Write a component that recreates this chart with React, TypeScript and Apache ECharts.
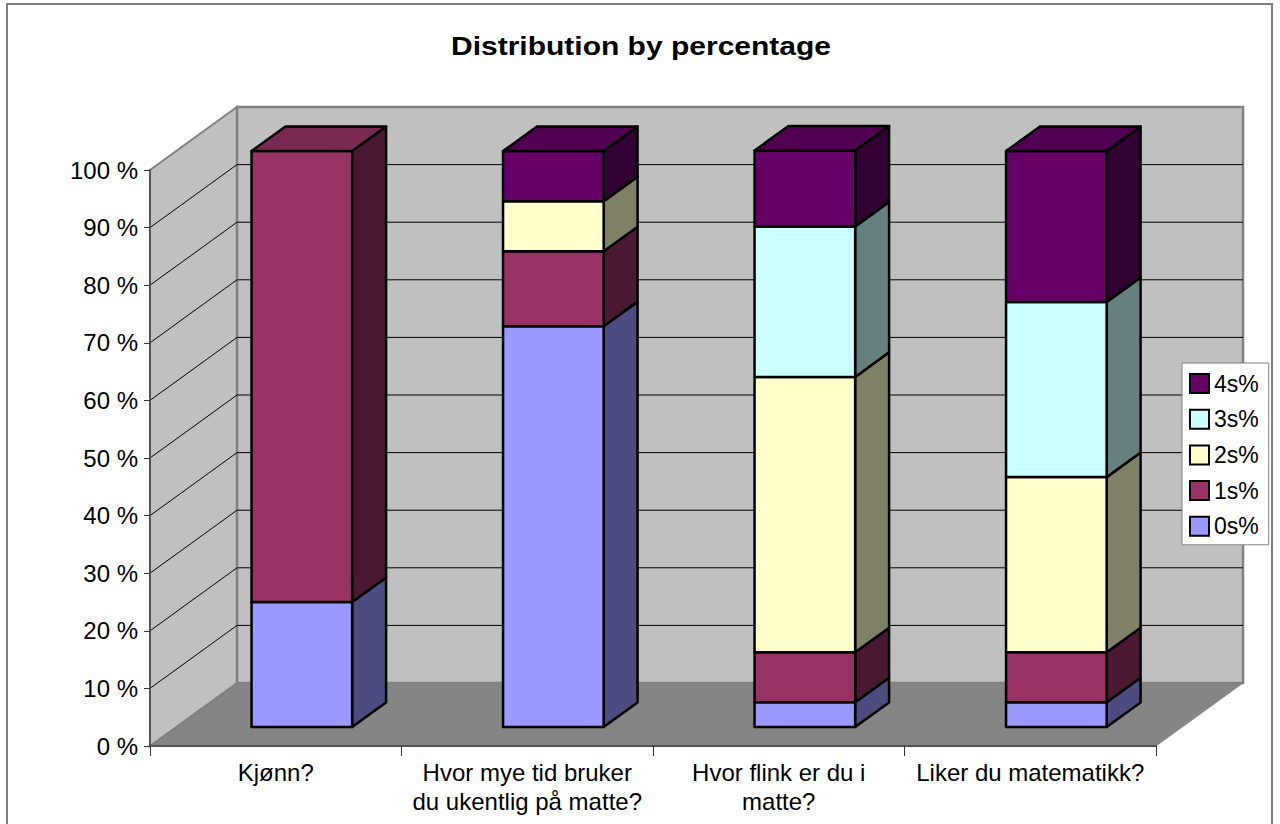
import React, { useEffect, useRef } from "react";
import * as echarts from "echarts";

// Question categories along the x axis
const categories = [
  "Kjønn?",
  "Hvor mye tid bruker\ndu ukentlig på matte?",
  "Hvor flink er du i\nmatte?",
  "Liker du matematikk?",
];

// Share of answers (%) per answer level, one array per level
const seriesNames = ["0s%", "1s%", "2s%", "3s%", "4s%"];
const pct0 = [21.7, 69.6, 4.3, 4.3];
const pct1 = [78.3, 13.0, 8.7, 8.7];
const pct2 = [0, 8.7, 47.8, 30.4];
const pct3 = [0, 0, 26.1, 30.4];
const pct4 = [0, 8.7, 13.2, 26.2];
const levels = [pct0, pct1, pct2, pct3, pct4];

// Value axis
const Y_MIN = 0;
const Y_MAX = 100;
const Y_STEP = 10;

// Face colours: front, side (shaded), top (shaded)
const FRONT = ["#9999FF", "#993366", "#FFFFCC", "#CCFFFF", "#660066"];
const SIDE = ["#4C4C80", "#4C1933", "#808066", "#668080", "#330033"];
const TOP = ["#7A7ACC", "#7A2952", "#CCCCA3", "#A3CCCC", "#520052"];

// Oblique projection of the chart depth (pixels) and bar placement in it
const DX = 87;
const DY = 63;
const DEPTH_FRONT = 0.3;
const DEPTH_BACK = 0.69;
const BAR_HALF = 0.2; // half bar width as fraction of category band

const FONT = '"Liberation Sans", Arial, Helvetica, sans-serif';

function buildStackData(level: number) {
  return categories.map((_, ci) => {
    let lo = 0;
    for (let k = 0; k < level; k++) lo += levels[k][ci];
    const hi = lo + levels[level][ci];
    let topIdx = 0;
    for (let k = 0; k < levels.length; k++) if (levels[k][ci] > 0) topIdx = k;
    return [ci, lo, hi, topIdx === level ? 1 : 0];
  });
}

export default function App() {
  const ref = useRef<HTMLDivElement>(null);

  useEffect(() => {
    if (!ref.current) return;
    const chart = echarts.init(ref.current, undefined, { renderer: "svg" });

    const wallSeries = {
      type: "custom",
      silent: true,
      clip: false,
      z: 1,
      data: [[0]],
      renderItem: (params: any, api: any) => {
        const cs = params.coordSys;
        const x0 = cs.x;
        const x1 = cs.x + cs.width;
        const yt = cs.y;
        const yb = cs.y + cs.height;
        const children: any[] = [
          {
            type: "polygon",
            shape: { points: [[x0, yb], [x0 + DX, yb - DY], [x1 + DX, yb - DY], [x1, yb]] },
            style: { fill: "#858585", stroke: "#8c8c8c", lineWidth: 1 },
          },
          {
            type: "polygon",
            shape: { points: [[x0, yt], [x0 + DX, yt - DY], [x0 + DX, yb - DY], [x0, yb]] },
            style: { fill: "#C0C0C0", stroke: "#808080", lineWidth: 2 },
          },
          {
            type: "polygon",
            shape: { points: [[x0 + DX, yt - DY], [x1 + DX, yt - DY], [x1 + DX, yb - DY], [x0 + DX, yb - DY]] },
            style: { fill: "#C0C0C0", stroke: "#808080", lineWidth: 2.5 },
          },
        ];
        for (let v = Y_MIN + Y_STEP; v < Y_MAX; v += Y_STEP) {
          const y = api.coord([0, v])[1];
          children.push({
            type: "polyline",
            shape: { points: [[x0, y], [x0 + DX, y - DY], [x1 + DX, y - DY]] },
            style: { fill: "none", stroke: "#000", lineWidth: 1 },
          });
        }
        return { type: "group", children };
      },
    };

    const barSeries = seriesNames.map((name, li) => ({
      type: "custom",
      name,
      z: 2,
      clip: false,
      itemStyle: { color: FRONT[li] },
      data: buildStackData(li),
      renderItem: (params: any, api: any) => {
        const ci = api.value(0);
        const lo = api.value(1);
        const hi = api.value(2);
        const isTop = api.value(3) === 1;
        if (hi - lo <= 0) return null;
        const band = api.size([1, 0])[0];
        const cx = api.coord([ci, 0])[0];
        const ox = DEPTH_FRONT * DX;
        const oy = DEPTH_FRONT * DY;
        const bdx = (DEPTH_BACK - DEPTH_FRONT) * DX;
        const bdy = (DEPTH_BACK - DEPTH_FRONT) * DY;
        const xl = cx - band * BAR_HALF + ox;
        const xr = cx + band * BAR_HALF + ox;
        const yl = api.coord([ci, lo])[1] - oy;
        const yh = api.coord([ci, hi])[1] - oy;
        const edge = { stroke: "#000", lineWidth: 2.5, lineJoin: "round" };
        const children: any[] = [
          {
            type: "polygon",
            shape: { points: [[xr, yl], [xr + bdx, yl - bdy], [xr + bdx, yh - bdy], [xr, yh]] },
            style: { fill: SIDE[li], ...edge },
          },
          {
            type: "rect",
            shape: { x: xl, y: yh, width: xr - xl, height: yl - yh },
            style: { fill: FRONT[li], ...edge },
          },
        ];
        if (isTop) {
          children.push({
            type: "polygon",
            shape: { points: [[xl, yh], [xl + bdx, yh - bdy], [xr + bdx, yh - bdy], [xr, yh]] },
            style: { fill: TOP[li], ...edge },
          });
        }
        return { type: "group", children };
      },
    }));

    chart.setOption({
      animation: false,
      backgroundColor: "#ffffff",
      graphic: [
        {
          type: "rect",
          silent: true,
          shape: { x: 7, y: 4, width: 1265, height: 830 },
          style: { fill: "none", stroke: "#7f7f7f", lineWidth: 2 },
        },
        {
          type: "text",
          silent: true,
          x: 641,
          y: 46,
          scaleX: 1.2,
          style: {
            text: "Distribution by percentage",
            font: `bold 25px ${FONT}`,
            fill: "#000",
            textAlign: "center",
            textVerticalAlign: "middle",
          },
        },
      ],
      grid: { left: 150, top: 170, width: 1006, height: 576, containLabel: false },
      xAxis: {
        type: "category",
        data: categories,
        z: 5,
        axisLine: { show: true, lineStyle: { color: "#555", width: 2 } },
        axisTick: { show: true, alignWithLabel: false, length: 10, lineStyle: { color: "#333", width: 1 } },
        axisLabel: {
          margin: 12,
          fontSize: 24,
          lineHeight: 29,
          fontFamily: FONT,
          color: "#000",
          interval: 0,
        },
        splitLine: { show: false },
      },
      yAxis: {
        type: "value",
        min: Y_MIN,
        max: Y_MAX,
        interval: Y_STEP,
        z: 5,
        axisLine: { show: true, lineStyle: { color: "#555", width: 2 } },
        axisTick: { show: true, length: 6, lineStyle: { color: "#333", width: 1 } },
        axisLabel: {
          formatter: "{value} %",
          margin: 12,
          fontSize: 24,
          fontFamily: FONT,
          color: "#000",
        },
        splitLine: { show: false },
      },
      legend: {
        data: [...seriesNames].reverse(),
        orient: "vertical",
        left: 1182,
        top: 363,
        padding: [9, 10, 7, 7],
        itemGap: 12.7,
        itemWidth: 19,
        itemHeight: 19,
        icon: "rect",
        itemStyle: { borderColor: "#000", borderWidth: 2 },
        textStyle: { fontSize: 23, fontFamily: FONT, color: "#000" },
        backgroundColor: "#ffffff",
        borderColor: "#808080",
        borderWidth: 1,
        borderRadius: 0,
        selectedMode: false,
      },
      series: [wallSeries, ...barSeries],
    });

    return () => chart.dispose();
  }, []);

  return (
    <div
      ref={ref}
      style={{ position: "fixed", left: 0, top: 0, width: 1280, height: 824 }}
    />
  );
}
